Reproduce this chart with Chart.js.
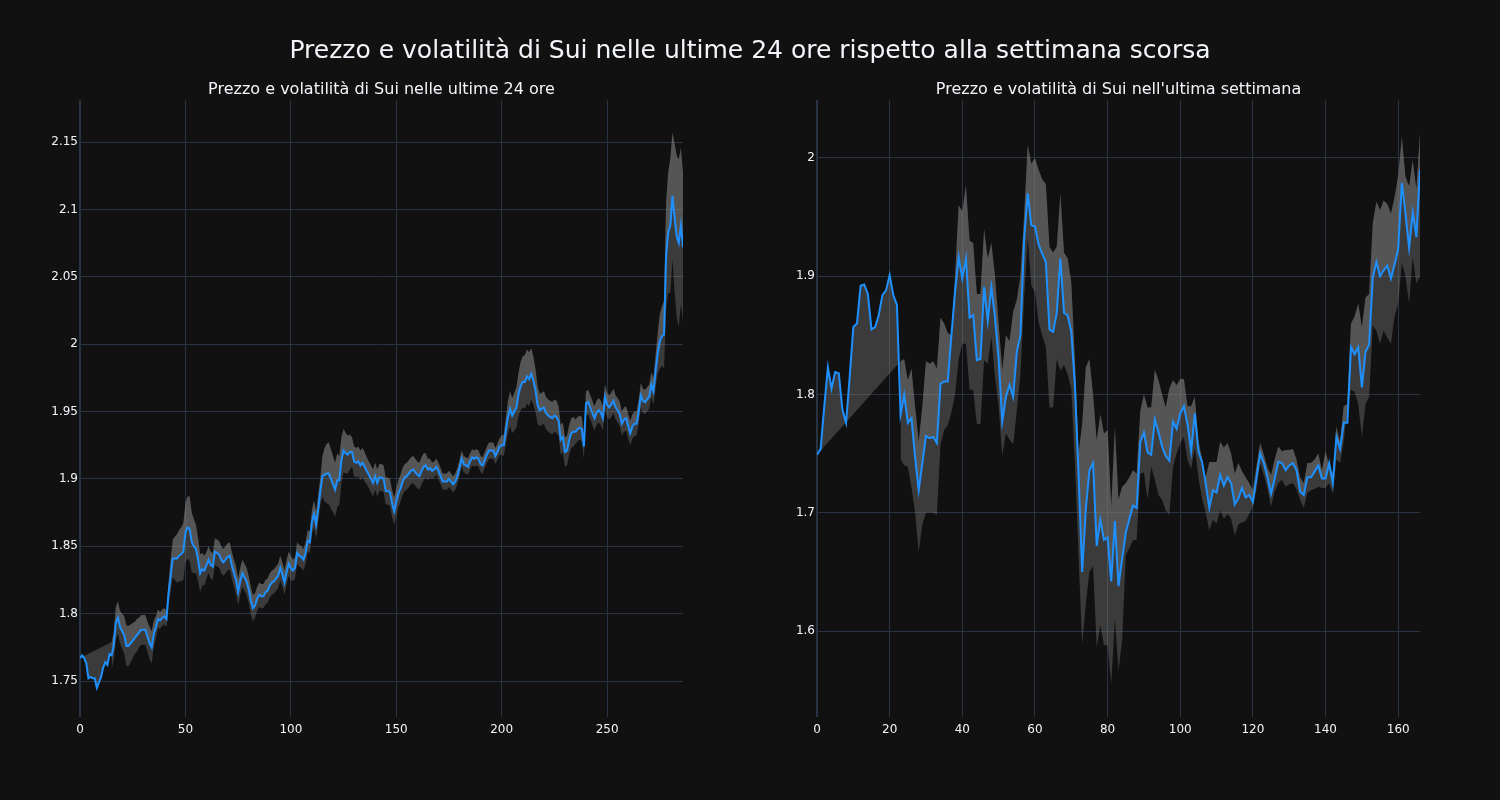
<!DOCTYPE html>
<html>
<head>
<meta charset="utf-8">
<script src="https://cdn.jsdelivr.net/npm/chart.js@4.4.0/dist/chart.umd.min.js"></script>
<style>
  html, body { margin: 0; padding: 0; background: #111111; }
  #wrap { position: relative; width: 1500px; height: 800px; overflow: hidden; }
  .txt { position: absolute; color: #f2f5fa; font-family: 'DejaVu Sans', sans-serif; text-align: center; white-space: nowrap; }
  #title { top: 35px; left: 0; width: 1500px; font-size: 25px; line-height: 30px; }
  .sub { top: 79px; font-size: 16px; line-height: 20px; }
  canvas { position: absolute; top: 0; }
</style>
</head>
<body>
<div id="wrap">
  <canvas id="left" width="750" height="800" style="left:0"></canvas>
  <canvas id="right" width="750" height="800" style="left:750px"></canvas>
  <div id="title" class="txt">Prezzo e volatilità di Sui nelle ultime 24 ore rispetto alla settimana scorsa</div>
  <div class="txt sub" style="left:80px;width:603px">Prezzo e volatilità di Sui nelle ultime 24 ore</div>
  <div class="txt sub" style="left:817px;width:603px">Prezzo e volatilità di Sui nell'ultima settimana</div>
</div>
<script>
// --- ultime 24 ore (campioni da 5 minuti) ---
const dayPrice = [
  1.767,1.769,1.767,1.763,1.752,1.753,1.752,1.752,1.745,1.749,
  1.753,1.760,1.764,1.762,1.770,1.769,1.776,1.793,1.797,1.790,
  1.787,1.784,1.776,1.776,1.778,1.780,1.782,1.784,1.786,1.788,
  1.788,1.788,1.783,1.778,1.775,1.785,1.790,1.796,1.795,1.797,
  1.798,1.796,1.815,1.828,1.841,1.841,1.841,1.843,1.844,1.846,
  1.860,1.864,1.863,1.853,1.850,1.848,1.840,1.830,1.833,1.832,
  1.836,1.840,1.836,1.835,1.846,1.845,1.844,1.840,1.838,1.840,
  1.842,1.843,1.836,1.830,1.825,1.816,1.824,1.830,1.827,1.824,
  1.818,1.810,1.804,1.806,1.811,1.814,1.813,1.813,1.816,1.817,
  1.821,1.823,1.824,1.826,1.828,1.834,1.829,1.823,1.831,1.837,
  1.834,1.832,1.834,1.845,1.843,1.842,1.840,1.845,1.854,1.853,
  1.868,1.874,1.866,1.878,1.891,1.902,1.903,1.904,1.904,1.900,
  1.896,1.892,1.899,1.899,1.914,1.921,1.919,1.918,1.920,1.920,
  1.913,1.912,1.913,1.910,1.912,1.909,1.906,1.903,1.900,1.897,
  1.902,1.897,1.901,1.901,1.900,1.891,1.891,1.890,1.882,1.876,
  1.883,1.889,1.893,1.898,1.901,1.902,1.904,1.906,1.907,1.905,
  1.903,1.902,1.906,1.909,1.910,1.907,1.908,1.906,1.907,1.909,
  1.906,1.902,1.898,1.898,1.898,1.900,1.898,1.896,1.898,1.902,
  1.908,1.915,1.911,1.910,1.909,1.913,1.916,1.915,1.916,1.915,
  1.911,1.910,1.914,1.918,1.921,1.921,1.921,1.917,1.920,1.924,
  1.925,1.925,1.936,1.946,1.952,1.947,1.950,1.953,1.963,1.969,
  1.972,1.972,1.976,1.974,1.978,1.973,1.966,1.955,1.951,1.952,
  1.953,1.949,1.947,1.946,1.945,1.947,1.946,1.943,1.929,1.931,
  1.920,1.921,1.929,1.934,1.935,1.935,1.937,1.938,1.937,1.924,
  1.956,1.957,1.953,1.949,1.945,1.949,1.951,1.949,1.945,1.961,
  1.955,1.953,1.955,1.958,1.953,1.951,1.948,1.941,1.944,1.945,
  1.939,1.934,1.939,1.941,1.941,1.950,1.962,1.958,1.957,1.959,
  1.961,1.970,1.965,1.980,1.993,2.002,2.006,2.007,2.066,2.083,
  2.088,2.110,2.094,2.080,2.075,2.088,2.072
];
// ampiezza della banda di volatilità (metà), null dove non calcolata
const dayVol = [
  null,null,null,null,null,null,null,null,null,null,
  null,null,null,null,null,0.010,0.010,0.012,0.012,0.012,
  0.013,0.014,0.015,0.015,0.014,0.013,0.012,0.012,0.011,0.011,
  0.011,0.011,0.011,0.012,0.012,0.010,0.008,0.007,0.006,0.006,
  0.006,0.006,0.008,0.012,0.014,0.016,0.018,0.019,0.020,0.021,
  0.022,0.023,0.024,0.022,0.020,0.018,0.016,0.014,0.012,0.011,
  0.010,0.010,0.010,0.010,0.010,0.010,0.010,0.010,0.010,0.010,
  0.010,0.010,0.010,0.010,0.010,0.010,0.010,0.010,0.010,0.010,
  0.010,0.010,0.010,0.009,0.009,0.009,0.009,0.009,0.009,0.009,
  0.009,0.009,0.009,0.009,0.009,0.009,0.009,0.009,0.009,0.009,
  0.009,0.008,0.008,0.008,0.008,0.008,0.008,0.008,0.008,0.008,
  0.009,0.010,0.010,0.010,0.010,0.015,0.020,0.022,0.023,0.022,
  0.021,0.020,0.020,0.018,0.017,0.016,0.015,0.014,0.013,0.011,
  0.011,0.011,0.011,0.011,0.011,0.011,0.010,0.010,0.010,0.010,
  0.010,0.010,0.010,0.010,0.010,0.010,0.010,0.010,0.010,0.010,
  0.010,0.010,0.010,0.010,0.010,0.010,0.010,0.010,0.010,0.010,
  0.010,0.010,0.010,0.010,0.009,0.008,0.007,0.006,0.006,0.006,
  0.006,0.006,0.006,0.006,0.006,0.006,0.006,0.006,0.006,0.006,
  0.006,0.006,0.006,0.006,0.006,0.006,0.006,0.006,0.006,0.006,
  0.006,0.006,0.006,0.006,0.006,0.006,0.006,0.006,0.006,0.006,
  0.007,0.008,0.010,0.012,0.013,0.013,0.014,0.015,0.016,0.018,
  0.019,0.020,0.020,0.020,0.019,0.018,0.016,0.014,0.012,0.012,
  0.012,0.012,0.012,0.012,0.012,0.012,0.012,0.011,0.011,0.011,
  0.011,0.011,0.011,0.011,0.011,0.009,0.009,0.009,0.009,0.009,
  0.009,0.009,0.009,0.009,0.009,0.009,0.009,0.009,0.009,0.009,
  0.009,0.009,0.009,0.009,0.009,0.009,0.009,0.009,0.009,0.009,
  0.009,0.009,0.009,0.009,0.009,0.009,0.009,0.009,0.009,0.009,
  0.009,0.009,0.010,0.012,0.015,0.020,0.022,0.025,0.040,0.045,
  0.050,0.047,0.055,0.060,0.062,0.058,0.055
];
const dayXTicks = [0, 50, 100, 150, 200, 250];
const dayYTicks = [1.75, 1.8, 1.85, 1.9, 1.95, 2, 2.05, 2.1, 2.15];

// --- ultima settimana (campioni orari) ---
const weekPrice = [
  1.749,1.754,1.790,1.823,1.805,1.819,1.818,1.787,1.776,1.815,
  1.857,1.860,1.892,1.893,1.885,1.855,1.857,1.867,1.884,1.888,
  1.901,1.884,1.876,1.783,1.800,1.776,1.780,1.747,1.719,1.742,
  1.765,1.763,1.764,1.759,1.809,1.811,1.811,1.850,1.887,1.916,
  1.898,1.915,1.865,1.867,1.829,1.830,1.891,1.862,1.891,1.865,
  1.830,1.777,1.798,1.808,1.798,1.836,1.850,1.930,1.970,1.943,
  1.942,1.927,1.919,1.912,1.855,1.853,1.869,1.915,1.869,1.867,
  1.853,1.808,1.733,1.650,1.703,1.736,1.742,1.672,1.694,1.677,
  1.679,1.642,1.693,1.638,1.661,1.683,1.695,1.706,1.704,1.760,
  1.768,1.751,1.749,1.779,1.768,1.756,1.748,1.744,1.777,1.771,
  1.784,1.790,1.775,1.752,1.784,1.752,1.743,1.725,1.704,1.719,
  1.717,1.732,1.723,1.730,1.725,1.707,1.712,1.721,1.713,1.715,
  1.709,1.730,1.750,1.742,1.730,1.716,1.729,1.743,1.742,1.736,
  1.740,1.742,1.736,1.718,1.715,1.730,1.730,1.735,1.740,1.729,
  1.729,1.742,1.725,1.764,1.754,1.776,1.776,1.840,1.834,1.840,
  1.806,1.836,1.842,1.899,1.912,1.900,1.905,1.909,1.898,1.910,
  1.923,1.979,1.953,1.924,1.954,1.933,1.990
];
const weekUpper = [
  null,null,null,null,null,null,null,null,null,null,
  null,null,null,null,null,null,null,null,null,null,
  null,null,null,1.828,1.830,1.812,1.822,1.790,1.760,1.790,
  1.828,1.826,1.828,1.822,1.865,1.860,1.852,1.850,1.900,1.960,
  1.955,1.977,1.930,1.928,1.885,1.885,1.940,1.915,1.928,1.900,
  1.860,1.820,1.850,1.845,1.870,1.880,1.900,1.950,2.011,1.995,
  2.000,1.990,1.982,1.978,1.925,1.920,1.925,1.970,1.920,1.915,
  1.895,1.830,1.750,1.775,1.823,1.830,1.800,1.761,1.783,1.767,
  1.770,1.705,1.773,1.711,1.722,1.725,1.730,1.736,1.733,1.786,
  1.800,1.789,1.789,1.821,1.812,1.800,1.789,1.805,1.812,1.808,
  1.813,1.813,1.790,1.790,1.798,1.761,1.745,1.730,1.743,1.743,
  1.743,1.760,1.755,1.759,1.750,1.733,1.742,1.735,1.730,1.725,
  1.719,1.740,1.759,1.749,1.738,1.732,1.745,1.756,1.752,1.753,
  1.753,1.754,1.745,1.730,1.725,1.742,1.742,1.745,1.750,1.736,
  1.752,1.740,1.733,1.773,1.760,1.790,1.792,1.860,1.866,1.877,
  1.857,1.882,1.885,1.945,1.963,1.956,1.964,1.961,1.953,1.967,
  1.985,2.018,1.984,1.976,1.998,1.974,2.021
];
const weekLower = [
  null,null,null,null,null,null,null,null,null,null,
  null,null,null,null,null,null,null,null,null,null,
  null,null,null,1.745,1.740,1.739,1.722,1.700,1.667,1.690,
  1.700,1.700,1.700,1.698,1.758,1.770,1.774,1.785,1.800,1.830,
  1.843,1.843,1.804,1.804,1.775,1.775,1.829,1.826,1.849,1.815,
  1.790,1.748,1.767,1.762,1.758,1.786,1.817,1.880,1.933,1.892,
  1.887,1.861,1.850,1.840,1.789,1.789,1.830,1.820,1.825,1.817,
  1.805,1.742,1.664,1.589,1.623,1.650,1.655,1.586,1.605,1.588,
  1.588,1.555,1.611,1.567,1.592,1.664,1.670,1.677,1.677,1.733,
  1.734,1.711,1.739,1.728,1.715,1.711,1.702,1.698,1.739,1.750,
  1.759,1.764,1.745,1.737,1.755,1.730,1.712,1.700,1.685,1.694,
  1.691,1.702,1.695,1.699,1.695,1.681,1.690,1.692,1.693,1.699,
  1.705,1.720,1.742,1.732,1.720,1.705,1.718,1.725,1.728,1.722,
  1.724,1.725,1.720,1.711,1.704,1.717,1.719,1.720,1.722,1.721,
  1.721,1.725,1.716,1.745,1.742,1.760,1.790,1.804,1.802,1.792,
  1.764,1.792,1.798,1.858,1.854,1.843,1.854,1.848,1.843,1.866,
  1.877,1.911,1.900,1.877,1.916,1.894,1.900
];
const weekXTicks = [0, 20, 40, 60, 80, 100, 120, 140, 160];
const weekYTicks = [1.6, 1.7, 1.8, 1.9, 2];

// ------------------------------------------------------------
const LINE = '#1e90ff';
const BAND = 'rgba(128,128,128,0.38)';
const GRID = '#283442';
const TEXT = '#f2f5fa';

Chart.defaults.font.family = "'DejaVu Sans', sans-serif";
Chart.defaults.font.size = 12;
Chart.defaults.color = TEXT;

const toPts = arr => arr.map((y, x) => ({ x, y })).filter(p => p.y !== null);
const fmt = v => String(Number(Number(v).toFixed(2)));

function draw(id, price, upper, lower, xMax, yMin, yMax, xTicks, yTicks, pad) {
  // come in plotly: la banda superiore chiude il poligono verso il primo prezzo
  const up = [{ x: 0, y: price[0] }].concat(toPts(upper));
  return new Chart(document.getElementById(id), {
    type: 'line',
    data: {
      datasets: [
        { data: toPts(price), borderColor: LINE, borderWidth: 2, pointRadius: 0, fill: false, tension: 0 },
        { data: up, borderColor: 'rgba(0,0,0,0)', borderWidth: 0, pointRadius: 0, backgroundColor: BAND, fill: 0, tension: 0 },
        { data: toPts(lower), borderColor: 'rgba(0,0,0,0)', borderWidth: 0, pointRadius: 0, backgroundColor: BAND, fill: 1, tension: 0 }
      ]
    },
    options: {
      responsive: false, animation: false, devicePixelRatio: 1,
      layout: { padding: pad },
      plugins: { legend: { display: false }, tooltip: { enabled: false }, title: { display: false } },
      scales: {
        x: {
          type: 'linear', min: 0, max: xMax,
          afterBuildTicks: s => { s.ticks = xTicks.map(v => ({ value: v })); },
          afterFit: s => { s.height = 30; },
          ticks: { color: TEXT, padding: 6, maxRotation: 0, callback: v => String(v) },
          grid: { color: GRID, drawTicks: false, lineWidth: c => (c.tick && c.tick.value === 0 ? 2 : 1) },
          border: { display: false }
        },
        y: {
          type: 'linear', min: yMin, max: yMax,
          afterBuildTicks: s => { s.ticks = yTicks.map(v => ({ value: v })); },
          afterFit: s => { s.width = 50; },
          ticks: { color: TEXT, padding: 2, callback: fmt },
          grid: { color: GRID, drawTicks: false },
          border: { display: false }
        }
      }
    }
  });
}

const dayUpper = dayPrice.map((p, i) => (dayVol[i] === null ? null : p + dayVol[i]));
const dayLower = dayPrice.map((p, i) => (dayVol[i] === null ? null : p - dayVol[i]));

draw('left', dayPrice, dayUpper, dayLower, 286, 1.7233, 2.1812, dayXTicks, dayYTicks,
  { left: 30, right: 67, top: 100, bottom: 53 });
draw('right', weekPrice, weekUpper, weekLower, 166, 1.5273, 2.049, weekXTicks, weekYTicks,
  { left: 17, right: 80, top: 100, bottom: 53 });
</script>
</body>
</html>
